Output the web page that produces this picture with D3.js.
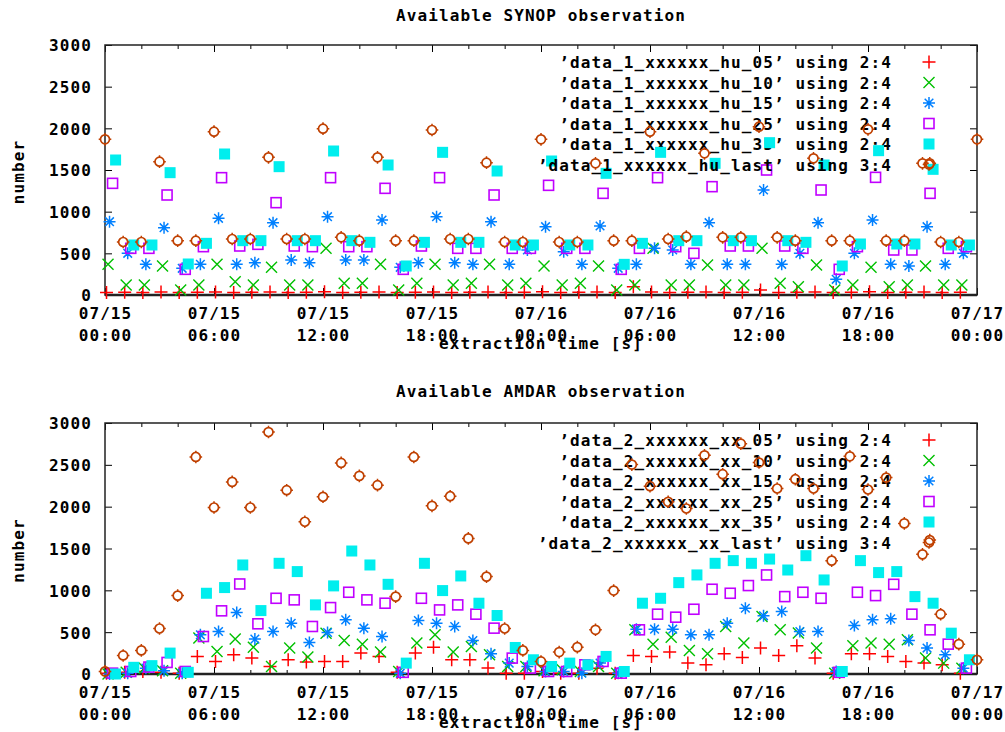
<!DOCTYPE html>
<html>
<head>
<meta charset="utf-8">
<script src="https://cdn.jsdelivr.net/npm/d3@7"></script>
<style>
body{margin:0;background:#fff;}
svg text{font-family:"DejaVu Sans Mono",monospace;font-weight:bold;font-size:16px;letter-spacing:1.1px;fill:#000;}
</style>
</head>
<body>
<div id="chart"></div>
<script>
// hourly extraction index, delay of each data file in minutes
var hours = d3.range(48);
var lastHours = d3.range(46).concat([45.4, 46, 47, 48]);
var delayMinutes = [5, 10, 15, 25, 35];
var yTicks = [0, 500, 1000, 1500, 2000, 2500, 3000];

var synopNames = ["\u2019data_1_xxxxxx_hu_05\u2019 using 2:4", "\u2019data_1_xxxxxx_hu_10\u2019 using 2:4",
    "\u2019data_1_xxxxxx_hu_15\u2019 using 2:4", "\u2019data_1_xxxxxx_hu_25\u2019 using 2:4",
    "\u2019data_1_xxxxxx_hu_35\u2019 using 2:4", "\u2019data_1_xxxxxx_hu_last\u2019 using 3:4"];
var amdarNames = ["\u2019data_2_xxxxxx_xx_05\u2019 using 2:4", "\u2019data_2_xxxxxx_xx_10\u2019 using 2:4",
    "\u2019data_2_xxxxxx_xx_15\u2019 using 2:4", "\u2019data_2_xxxxxx_xx_25\u2019 using 2:4",
    "\u2019data_2_xxxxxx_xx_35\u2019 using 2:4", "\u2019data_2_xxxxxx_xx_last\u2019 using 3:4"];

// SYNOP
var synop05 = [30,32,30,35,30,32,35,30,32,35,30,32,38,30,32,35,
               30,32,35,30,32,35,30,32,40,30,32,35,30,100,35,30,
               32,35,30,32,60,30,32,35,30,32,40,30,32,35,30,32];
var synop10 = [368,120,120,348,60,120,368,160,120,332,120,120,560,140,140,368,
               60,140,368,120,140,368,120,140,348,120,140,348,60,120,560,120,120,
               360,120,120,560,140,100,360,60,120,332,100,120,348,120,120];
var synop15 = [880,500,368,808,320,368,920,368,388,868,420,388,940,420,420,900,
               332,388,940,388,368,880,368,540,820,520,368,828,320,368,560,540,368,
               868,368,368,1260,368,500,868,188,500,900,368,348,820,368,500];
var synop25 = [1340,560,560,1200,308,580,1408,588,608,1108,588,580,1408,580,580,1280,
               308,588,1408,560,560,1200,560,560,1316,560,560,1220,308,560,1408,580,500,
               1300,588,588,1500,588,560,1260,308,580,1412,540,540,1220,560,580];
var synop35 = [1620,600,600,1468,372,620,1692,652,652,1540,652,652,1728,652,632,1560,
               348,632,1712,632,632,1488,600,600,1608,600,600,1460,368,620,1712,652,652,
               1580,652,652,1828,652,632,1560,348,612,1732,612,612,1508,600,600];
var synopLast = [1868,636,636,1600,652,652,1960,672,672,1652,672,672,1996,692,652,1652,
                 652,652,1980,672,672,1588,636,636,1868,636,636,1580,652,652,1960,672,700,
                 1700,692,692,2020,692,652,1640,652,652,1988,652,652,1580,
                 1580,636,636,1868];

// AMDAR
var amdar05 = [10,20,30,20,10,210,150,230,190,90,170,143,150,150,250,210,
               20,250,321,170,170,71,10,10,30,10,10,70,10,222,210,262,130,
               110,242,198,310,222,337,190,10,242,242,210,150,130,110,10];
var amdar10 = [0,20,70,40,10,430,270,417,321,90,310,202,488,400,357,262,
               30,370,468,262,330,230,90,90,40,50,30,90,10,528,357,440,282,
               242,567,370,687,528,490,310,10,337,370,357,408,190,130,70];
var amdar15 = [0,10,70,40,10,468,508,735,417,508,607,377,496,647,548,448,
               10,639,607,568,400,242,130,90,30,30,10,130,10,536,536,536,468,
               468,607,786,695,747,508,508,30,580,647,659,400,310,230,70];
var amdar25 = [10,30,83,138,30,448,755,1076,600,905,886,568,794,977,886,846,
               20,905,766,826,715,548,190,70,30,30,110,150,10,528,715,679,774,
               1013,965,1057,1184,925,977,905,20,977,937,1072,715,528,357,70];
var amdar35 = [0,80,100,250,20,965,1033,1303,758,1323,1224,826,1053,1470,1303,1072,
               130,1323,997,1172,846,699,317,170,90,130,110,210,30,846,905,1092,1184,
               1323,1355,1323,1374,1243,1414,1124,30,1355,1212,1224,925,846,488,170];
var amdarLast = [31,222,282,544,937,2594,1990,2296,1990,2892,2197,1820,2118,2523,2368,2257,
                 925,2594,2010,2125,1621,1164,544,282,150,262,321,528,997,2503,2245,2058,1978,
                 2614,2388,2753,2527,2217,2328,2217,1355,2602,2205,2348,1800,1430,
                 1601,715,357,170];

var colors = ["#ff0000", "#00c000", "#0080ff", "#c000ff", "#00eeee", "#c04000"];

var width = 1005, height = 732;
var svg = d3.select("#chart").append("svg").attr("width", width).attr("height", height);

var t0 = Date.UTC(2010, 6, 15);
var x = d3.scaleUtc().domain([new Date(t0), new Date(t0 + 48 * 3600e3)]).range([105, 977]);
function hourDate(h) { return new Date(t0 + h * 3600e3); }

var majorTicks = d3.utcHour.every(6).range(hourDate(0), hourDate(48.01));
var minorTicks = d3.utcHour.every(2).range(hourDate(0), hourDate(48.01))
    .filter(function(d) { return d.getUTCHours() % 6 != 0; });

// gnuplot point types 1..6
function drawMark(g, type, color, cx, cy) {
    var m = g.append("g").attr("transform", "translate(" + cx + "," + cy + ")");
    if (type == 0) {
        m.append("path").attr("d", "M-6.5,0H6.5M0,-6.5V6.5").attr("stroke", color).attr("stroke-width", 1.5);
    } else if (type == 1) {
        m.append("path").attr("d", "M-5.5,-5.5L5.5,5.5M-5.5,5.5L5.5,-5.5").attr("stroke", color).attr("stroke-width", 1.4);
    } else if (type == 2) {
        m.append("path").attr("d", "M-6,0H6M0,-6V6M-4.3,-4.3L4.3,4.3M-4.3,4.3L4.3,-4.3").attr("stroke", color).attr("stroke-width", 1.5);
    } else if (type == 3) {
        m.append("rect").attr("x", -5).attr("y", -5).attr("width", 10).attr("height", 10)
            .attr("fill", "none").attr("stroke", color).attr("stroke-width", 1.6);
    } else if (type == 4) {
        m.append("rect").attr("x", -5.5).attr("y", -5.5).attr("width", 11).attr("height", 11).attr("fill", color);
    } else {
        m.append("circle").attr("r", 4.5).attr("fill", "none").attr("stroke", color).attr("stroke-width", 1.7);
        m.append("path").attr("d", "M0,-6.3V-4.5M0,4.5V6.3M-6.3,0H-4.5M4.5,0H6.3").attr("stroke", color).attr("stroke-width", 1.5);
    }
}

function panel(top, bottom, titleY, title, names, series, last) {
    var y = d3.scaleLinear().domain([0, 3000]).range([bottom, top]);
    var g = svg.append("g");

    g.append("text").attr("x", 541).attr("y", titleY).attr("text-anchor", "middle").text(title);

    // ticks, inward on all four sides
    function tickAxis(axis, tr) {
        var a = g.append("g").attr("transform", tr).call(axis);
        a.select(".domain").remove();
        a.selectAll(".tick line").attr("stroke", "#000").attr("stroke-width", 1);
        return a;
    }
    tickAxis(d3.axisBottom(x).tickValues(minorTicks).tickSize(-4).tickFormat(""), "translate(0," + bottom + ")");
    tickAxis(d3.axisTop(x).tickValues(minorTicks).tickSize(-4).tickFormat(""), "translate(0," + top + ")");
    tickAxis(d3.axisTop(x).tickValues(majorTicks).tickSize(-7).tickFormat(""), "translate(0," + top + ")");
    var xa = tickAxis(d3.axisBottom(x).tickValues(majorTicks).tickSize(-7).tickFormat(""), "translate(0," + bottom + ")");
    xa.selectAll(".tick text").remove();
    xa.selectAll(".tick").each(function(d) {
        var t = d3.select(this);
        t.append("text").attr("y", 24).attr("text-anchor", "middle").text(d3.utcFormat("%m/%d")(d));
        t.append("text").attr("y", 46).attr("text-anchor", "middle").text(d3.utcFormat("%H:%M")(d));
    });
    var ya = tickAxis(d3.axisLeft(y).tickValues(yTicks).tickSize(-7).tickPadding(13).tickFormat(d3.format("d")), "translate(105,0)");
    ya.selectAll(".tick text").attr("dy", "0.37em").style("font-size", "16px").attr("fill", "#000");
    tickAxis(d3.axisRight(y).tickValues(yTicks).tickSize(-7).tickFormat(""), "translate(977,0)");

    g.append("text").attr("x", 541).attr("y", bottom + 54).attr("text-anchor", "middle").text("extraction time [s]");
    g.append("text").attr("transform", "translate(24," + ((top + bottom) / 2 + 2) + ") rotate(-90)")
        .attr("text-anchor", "middle").text("number");

    g.append("rect").attr("x", 105).attr("y", top).attr("width", 872).attr("height", bottom - top)
        .attr("fill", "none").attr("stroke", "#222").attr("stroke-width", 1.5);
    g.append("line").attr("x1", 105).attr("x2", 977).attr("y1", y(0)).attr("y2", y(0))
        .attr("stroke", "#222").attr("stroke-width", 2.5);

    var plot = g.append("g");
    var rowY = function(i) { return top + 17 + i * 20.5; };
    series.concat([last]).forEach(function(vals, k) {
        // key entry drawn just before its points, as gnuplot does
        plot.append("text").attr("x", 892).attr("y", rowY(k) + 6).attr("text-anchor", "end").text(names[k]);
        drawMark(plot, k, colors[k], 929, rowY(k));
        var hs = k < 5 ? hours : lastHours;
        var off = k < 5 ? delayMinutes[k] / 60 : 0;
        vals.forEach(function(v, i) {
            drawMark(plot, k, colors[k], x(hourDate(hs[i] + off)), y(v));
        });
    });
}

panel(45, 295, 21, "Available SYNOP observation", synopNames,
      [synop05, synop10, synop15, synop25, synop35], synopLast);
panel(423, 674, 397, "Available AMDAR observation", amdarNames,
      [amdar05, amdar10, amdar15, amdar25, amdar35], amdarLast);
</script>
</body>
</html>
